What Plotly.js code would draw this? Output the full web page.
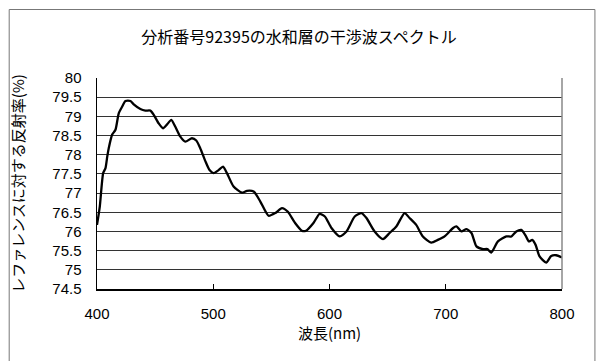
<!DOCTYPE html>
<html>
<head>
<meta charset="utf-8">
<script src="https://cdn.plot.ly/plotly-3.0.1.min.js"></script>
<style>html,body{margin:0;padding:0;background:#fff;}#chart{width:598px;height:361px;}</style>
</head>
<body>
<div id="chart"></div>
<script>
const wavelength = [400, 402.4, 405.3, 407.3, 408.8, 410.1, 413, 415.9, 418.7, 421.6, 424.5, 428.8, 431.6, 437.3, 441.6, 445.9, 448.8, 453, 456.8, 460.3, 463.9, 467.4, 471.7, 476, 481.7, 485.4, 488.8, 493.1, 496.8, 500.3, 504.6, 508.4, 511.8, 517.5, 524.7, 529, 534.8, 540.5, 547.6, 553.4, 559.1, 564, 570.4, 576.2, 579.8, 586.2, 591.5, 596, 601.7, 608.8, 614.6, 621.7, 627.5, 631.8, 638.8, 646, 651.7, 657.5, 664.6, 668.9, 674.6, 680.3, 687.5, 693.2, 699, 706.3, 709.2, 713.5, 717.8, 722.1, 726.4, 732, 735.8, 739.2, 744.9, 752.1, 756.4, 760.7, 765, 768.7, 771.5, 774.4, 777.3, 780.7, 786.4, 790.7, 795, 800];
const reflectance = [76.17, 76.65, 77.52, 77.65, 77.95, 78.17, 78.52, 78.65, 79.08, 79.25, 79.40, 79.40, 79.31, 79.19, 79.15, 79.15, 79.04, 78.82, 78.69, 78.79, 78.91, 78.73, 78.47, 78.34, 78.43, 78.37, 78.17, 77.84, 77.60, 77.52, 77.60, 77.69, 77.52, 77.17, 77.01, 77.06, 77.04, 76.78, 76.41, 76.48, 76.61, 76.52, 76.22, 76.02, 76.02, 76.22, 76.46, 76.39, 76.09, 75.87, 76.0, 76.39, 76.48, 76.35, 76.0, 75.80, 75.96, 76.13, 76.48, 76.35, 76.17, 75.87, 75.71, 75.78, 75.87, 76.09, 76.13, 76.0, 76.06, 75.96, 75.61, 75.54, 75.54, 75.45, 75.74, 75.87, 75.87, 76.0, 76.04, 75.89, 75.74, 75.78, 75.65, 75.35, 75.19, 75.36, 75.38, 75.32];
const xTicks = [400, 500, 600, 700, 800];
const yTicks = [74.5, 75, 75.5, 76, 76.5, 77, 77.5, 78, 78.5, 79, 79.5, 80];
const yTickText = ['74.5', '75', '75.5', '76', '76.5', '77', '77.5', '78', '78.5', '79', '79.5', '80'];
const chartTitle = '分析番号92395の水和層の干渉波スペクトル';
const xTitle = '波長(nm)';
const yTitle = 'レファレンスに対する反射率(%)';

const FONT = 'Arial, "Liberation Sans", "Noto Sans CJK JP", sans-serif';
const CJK = '"Noto Sans CJK JP", "Liberation Sans", sans-serif';

const trace = {
  x: wavelength, y: reflectance, type: 'scatter', mode: 'lines',
  line: {color: '#000', width: 2.3, shape: 'spline', smoothing: 0.6},
  hoverinfo: 'skip', showlegend: false
};

const L = 96.5, R = 35.5, T = 78, B = 72, W = 598, H = 361;
const pw = W - L - R, ph = H - T - B;
function px2x(p){ return (p - L) / pw; }
function py2y(p){ return (H - B - p) / ph; }

const layout = {
  width: W, height: H,
  margin: {l: L, r: R, t: T, b: B, pad: 0},
  paper_bgcolor: '#fff', plot_bgcolor: '#fff',
  font: {family: FONT, size: 15, color: '#000'},
  title: {text: chartTitle, font: {family: CJK, size: 16, color: '#000'}, x: 0.5, xanchor: 'center', y: 1 - 37/H, yanchor: 'middle'},
  xaxis: {
    range: [400, 800], tickvals: xTicks, ticktext: xTicks.map(String),
    showgrid: false, zeroline: false,
    showline: true, linecolor: '#000', linewidth: 1.5,
    ticks: 'inside', ticklen: 5, tickcolor: '#000', tickwidth: 1,
    ticklabelstandoff: 10,
    tickfont: {family: FONT, size: 15, color: '#000'},
    title: {text: xTitle, font: {family: CJK, size: 15, color: '#000'}, standoff: 8}
  },
  yaxis: {
    range: [74.5, 80], tickvals: yTicks, ticktext: yTickText,
    showgrid: true, gridcolor: '#333', gridwidth: 1,
    zeroline: false,
    showline: true, linecolor: '#000', linewidth: 1.5,
    ticks: '', ticklabelstandoff: 11,
    tickfont: {family: FONT, size: 15, color: '#000'},
    title: {text: yTitle, font: {family: CJK, size: 15, color: '#000'}, standoff: 24}
  },
  shapes: [
    {type: 'line', xref: 'paper', yref: 'paper', x0: 1, x1: 1, y0: 0, y1: 1, line: {color: '#888', width: 1.5}},
    {type: 'rect', xref: 'paper', yref: 'paper', x0: px2x(8.5), x1: px2x(595.5), y0: py2y(9.5), y1: py2y(365), line: {color: '#777', width: 1}, fillcolor: 'rgba(0,0,0,0)', layer: 'below'}
  ]
};

Plotly.newPlot('chart', [trace], layout, {displayModeBar: false, staticPlot: true});
</script>
</body>
</html>
